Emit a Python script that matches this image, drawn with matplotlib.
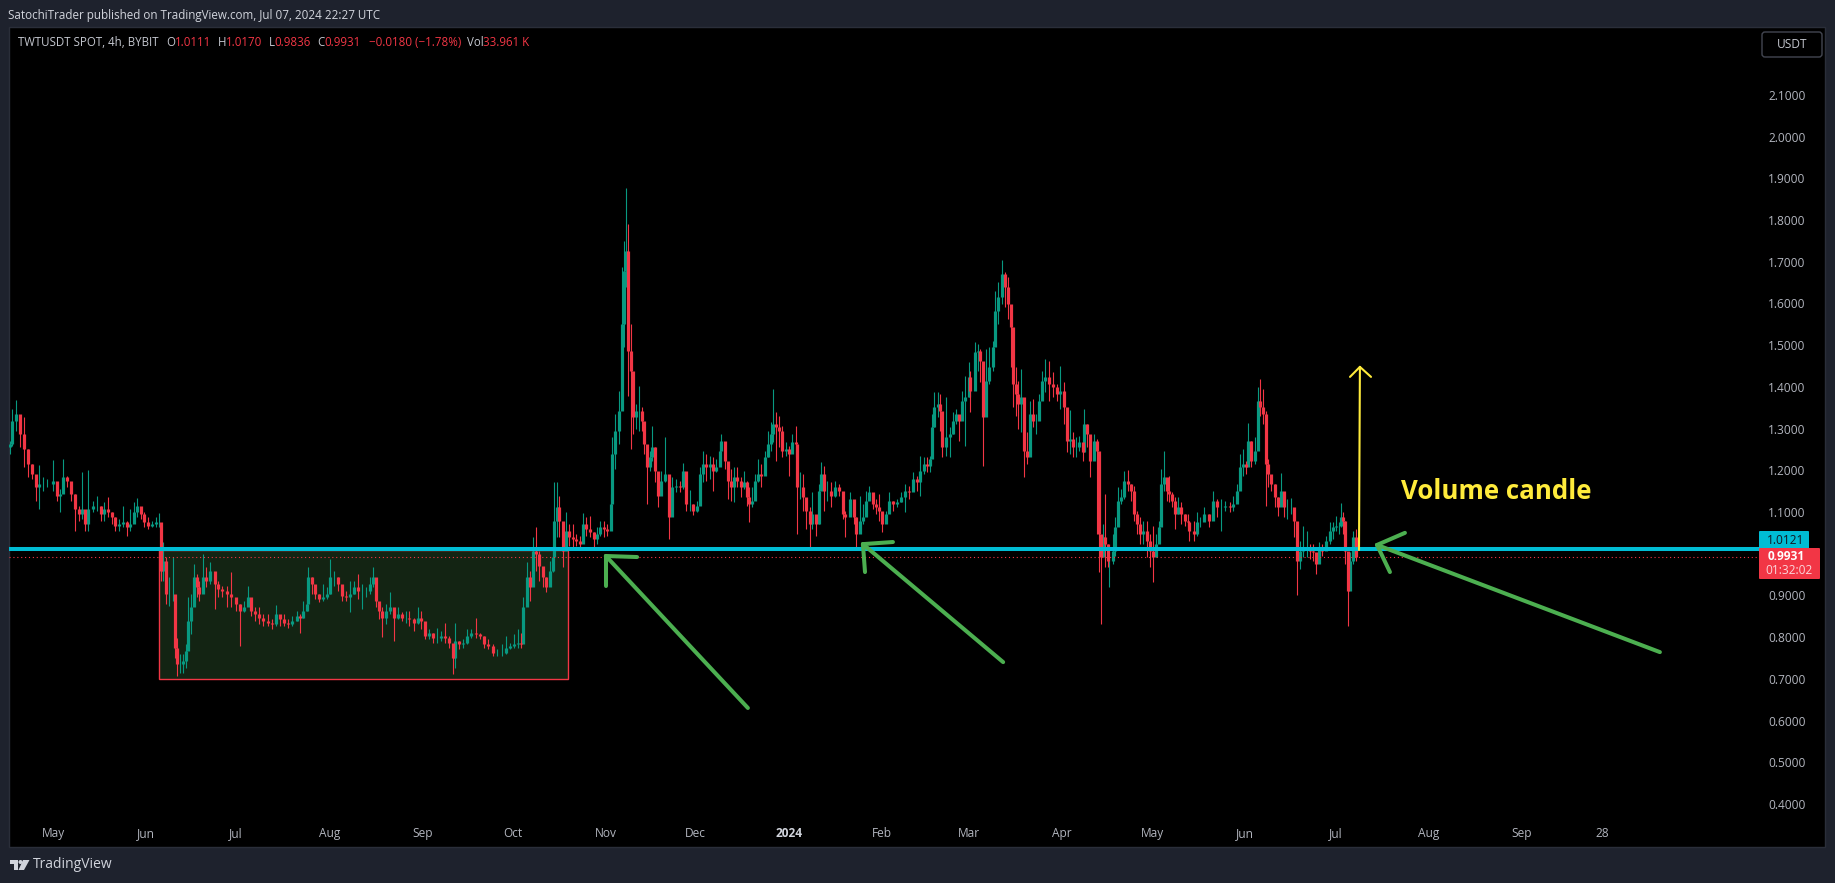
import matplotlib
matplotlib.use('Agg')
import matplotlib.pyplot as plt
import matplotlib.dates as mdates
import numpy as np
import datetime
from matplotlib.patches import Rectangle, FancyBboxPatch, Polygon, Circle

# -------------------------------------------------------------------------------------------------------------------- #
# DATA

# Candles. day = days after 2023-05-01
days = [-14.4, -13.7, -12.4, -11.1, -9.8, -8.4, -7.1, -5.8, -4.5, -3.2, -1.9, -0.1, 1.4, 2.4, 3.4, 4.7, 6.1, 7.4, 8.7,
        9.7, 10.7, 11.7, 13.3, 14.6, 15.9, 17.0, 18.2, 19.5, 20.8, 21.9, 23.2, 24.5, 25.8, 27.1, 28.1, 29.2, 30.4, 31.7,
        33.1, 34.4, 35.4, 35.8, 36.6, 37.7, 38.7, 39.8, 40.5, 41.2, 42.3, 43.2, 44.3, 45.1, 46.1, 46.9, 47.8, 48.6, 49.8,
        50.9, 52.2, 53.9, 55.1, 56.4, 58.1, 59.4, 61.0, 62.3, 63.6, 65.0, 66.0, 67.3, 68.7, 70.0, 71.6, 73.0, 74.2, 75.5,
        77.0, 78.3, 79.6, 81.2, 82.1, 83.4, 84.5, 85.0, 86.2, 87.4, 88.7, 90.0, 91.2, 92.4, 93.7, 95.0, 96.3, 97.7, 99.0,
        100.3, 101.6, 102.9, 104.2, 105.6, 106.6, 107.5, 108.6, 109.4, 110.8, 112.2, 113.5, 114.8, 116.1, 117.4, 118.7,
        120.1, 121.4, 122.7, 124.0, 125.3, 126.6, 128.0, 129.3, 130.6, 131.9, 133.2, 133.9, 135.2, 136.5, 137.8, 139.2,
        140.8, 142.1, 143.4, 144.7, 146.4, 147.7, 149.4, 150.8, 152.1, 153.4, 154.7, 156.0, 156.6, 157.9, 158.9, 159.9,
        160.9, 162.0, 163.2, 164.3, 165.5, 166.4, 166.8, 167.8, 168.6, 169.8, 170.8, 171.9, 173.0, 174.2, 175.4, 176.5,
        177.6, 178.7, 180.0, 181.1, 182.3, 183.5, 184.6, 185.7,
        186.2, 187.3, 188.4, 189.6, 190.3, 190.9, 191.4, 192.4, 193.2, 194.1, 195.1, 196.0, 196.8, 197.8, 198.8, 199.6,
        200.5, 201.4, 202.6, 203.8, 205.1, 206.2, 207.6, 208.7, 209.8, 210.9, 212.0, 213.2, 214.3, 215.3, 216.4, 217.6,
        218.7, 219.8, 220.9, 222.0, 222.6, 223.7, 224.8, 225.9, 226.8, 227.9, 229.0, 230.1, 231.2, 231.7, 232.7, 233.8,
        234.8, 235.9, 237.0, 238.1, 239.0, 239.8, 240.8, 241.8, 242.9, 244.0, 245.1, 246.2, 247.3, 247.8, 248.8, 249.8,
        250.9, 252.1, 252.9, 254.0, 255.1, 255.8, 256.8, 257.9, 259.2, 260.3, 261.8, 263.0, 263.8, 265.4, 266.6, 267.5,
        268.6, 269.7, 270.8, 271.8, 272.9, 274.1, 275.1, 276.0, 277.3, 278.5, 279.6, 280.9, 282.3, 283.8, 285.1, 286.4,
        287.6, 288.7, 289.9, 291.0, 292.0, 292.6, 293.4, 294.6, 295.3, 296.2, 297.4, 298.6, 299.7, 300.7, 301.8, 302.7,
        303.8, 304.9, 305.4, 307.0, 308.1, 308.8, 309.8, 310.7, 311.8, 312.9, 313.7, 314.8, 316.1, 317.0, 318.1, 319.0,
        319.7, 320.6, 321.4,
        322.3, 323.2, 324.3, 325.4, 326.5, 327.3, 328.2, 329.3, 330.4, 331.8, 333.1, 334.2, 335.4, 336.5, 337.6, 338.5,
        339.6, 340.7, 341.8, 342.9, 343.4, 344.3, 345.4, 346.6, 347.7, 348.2, 349.1, 349.8, 350.4, 351.2, 351.8, 352.9,
        353.8, 354.6, 355.7, 356.8, 357.9, 359.0, 359.9, 360.9, 362.0, 363.1, 364.2, 365.3, 366.4, 367.3, 368.3, 369.0,
        369.8, 370.9, 371.6, 372.7, 373.6, 374.6, 375.7, 376.8, 377.9, 378.4, 379.9, 381.0, 382.1, 383.4, 385.1, 386.2,
        387.7, 389.1, 390.3, 391.8, 393.1, 394.2, 395.3, 396.2, 397.3, 398.1, 399.0, 400.1, 401.2, 401.8, 402.9, 403.8,
        404.6, 405.7, 406.8, 407.9, 408.8, 409.9, 411.0, 412.1, 413.4, 414.1, 415.1, 416.4, 417.6, 418.7, 419.6, 420.5,
        421.6, 422.7, 424.0, 425.1, 426.2, 427.3, 428.1, 428.9, 429.7, 430.4, 431.2, 432.0, 433.0, 434.0]

highs = [1.271, 1.347, 1.369, 1.315, 1.327, 1.251, 1.215, 1.183, 1.213, 1.183, 1.179, 1.225, 1.159, 1.155, 1.227, 1.187,
         1.167, 1.143, 1.115, 1.195, 1.095, 1.201, 1.127, 1.139, 1.115, 1.123, 1.135, 1.099, 1.087, 1.083, 1.115, 1.079,
         1.107, 1.123, 1.133, 1.111, 1.099, 1.087, 1.079, 1.087, 1.097, 1.071, 1.027, 0.991, 0.943, 0.991, 0.855, 0.799,
         0.759, 0.759, 0.783, 0.895, 0.903, 0.975, 0.951, 0.935, 0.999, 0.967, 0.979, 0.943, 0.935, 0.923, 0.923, 0.955,
         0.891, 0.879, 0.887, 0.923, 0.871, 0.871, 0.871, 0.855, 0.855, 0.843, 0.878, 0.851, 0.855, 0.843, 0.851, 0.863,
         0.855, 0.887, 0.899, 0.967, 0.943, 0.923, 0.903, 0.927, 0.919, 0.987, 0.959, 0.943, 0.919, 0.911, 0.935, 0.935,
         0.951, 0.927, 0.919, 0.943, 0.967, 0.935, 0.883, 0.871, 0.879, 0.909, 0.863, 0.871, 0.859, 0.863, 0.863, 0.847,
         0.871, 0.863, 0.819, 0.819, 0.811, 0.823, 0.815, 0.833, 0.803, 0.783, 0.835, 0.791, 0.795, 0.819, 0.819, 0.846,
         0.811, 0.803, 0.795, 0.783, 0.771, 0.783, 0.803, 0.787, 0.807, 0.819, 0.811, 0.895, 0.979, 0.959, 1.039, 1.065,
         1.007, 0.967, 0.943, 0.983, 1.007, 1.171, 1.171, 1.139, 1.071, 1.099, 1.071, 1.071, 1.047, 1.043, 1.097, 1.087,
         1.091, 1.051, 1.063, 1.079, 1.079, 1.071, 1.143,
         1.279, 1.335, 1.391, 1.687, 1.751, 1.877, 1.791, 1.551, 1.383, 1.359, 1.403, 1.351, 1.307, 1.255, 1.247, 1.307,
         1.255, 1.175, 1.199, 1.280, 1.135, 1.183, 1.179, 1.175, 1.217, 1.159, 1.152, 1.119, 1.127, 1.207, 1.247, 1.239,
         1.235, 1.231, 1.227, 1.267, 1.287, 1.255, 1.211, 1.203, 1.207, 1.207, 1.183, 1.199, 1.175, 1.159, 1.159, 1.191,
         1.227, 1.215, 1.247, 1.295, 1.315, 1.395, 1.339, 1.331, 1.307, 1.267, 1.259, 1.287, 1.307, 1.247, 1.195, 1.191,
         1.119, 1.111, 1.147, 1.087, 1.167, 1.219, 1.211, 1.175, 1.171, 1.175, 1.167, 1.111, 1.103, 1.147, 1.103, 1.087,
         1.139, 1.119, 1.151, 1.163, 1.131, 1.131, 1.143, 1.087, 1.103, 1.147, 1.127, 1.131, 1.147, 1.167, 1.163, 1.195,
         1.187, 1.235, 1.231, 1.231, 1.235, 1.335, 1.387, 1.387, 1.383, 1.323, 1.375, 1.303, 1.339, 1.347, 1.331, 1.391,
         1.427, 1.459, 1.439, 1.507, 1.503, 1.491, 1.431, 1.491, 1.495, 1.511, 1.631, 1.651, 1.704, 1.675, 1.663, 1.591,
         1.487, 1.447, 1.415,
         1.443, 1.303, 1.291, 1.367, 1.371, 1.335, 1.383, 1.439, 1.467, 1.463, 1.435, 1.407, 1.451, 1.411, 1.287, 1.344,
         1.291, 1.279, 1.283, 1.263, 1.347, 1.311, 1.255, 1.287, 1.275, 1.135, 1.027, 1.071, 1.143, 1.023, 1.007, 1.047,
         1.087, 1.159, 1.155, 1.199, 1.201, 1.167, 1.163, 1.103, 1.087, 1.079, 1.079, 1.047, 1.067, 1.047, 1.079, 1.203,
         1.247, 1.167, 1.187, 1.147, 1.135, 1.135, 1.123, 1.095, 1.095, 1.079, 1.079, 1.099, 1.087, 1.111, 1.095, 1.151,
         1.131, 1.131, 1.127, 1.123, 1.139, 1.167, 1.239, 1.251, 1.223, 1.313, 1.271, 1.279, 1.399, 1.419, 1.395, 1.343,
         1.227, 1.187, 1.167, 1.135, 1.193, 1.131, 1.131, 1.133, 1.099, 1.027, 1.031, 1.067, 1.055, 1.023, 1.023, 0.999,
         1.027, 1.023, 1.043, 1.075, 1.075, 1.091, 1.075, 1.121, 1.099, 1.079, 0.975, 1.003, 1.055, 1.059]

lows = [1.239, 1.259, 1.295, 1.255, 1.207, 1.183, 1.179, 1.127, 1.107, 1.151, 1.159, 1.151, 1.127, 1.099, 1.151, 1.159,
        1.127, 1.055, 1.079, 1.083, 1.055, 1.055, 1.099, 1.103, 1.079, 1.079, 1.087, 1.071, 1.055, 1.055, 1.063, 1.043,
        1.055, 1.087, 1.087, 1.083, 1.063, 1.059, 1.063, 1.063, 1.063, 0.935, 0.935, 0.879, 0.875, 0.887, 0.751, 0.707,
        0.715, 0.715, 0.727, 0.799, 0.807, 0.895, 0.895, 0.887, 0.919, 0.919, 0.927, 0.867, 0.895, 0.895, 0.871, 0.871,
        0.863, 0.778, 0.859, 0.879, 0.851, 0.839, 0.831, 0.827, 0.827, 0.819, 0.827, 0.827, 0.827, 0.823, 0.827, 0.839,
        0.809, 0.847, 0.863, 0.887, 0.903, 0.891, 0.883, 0.887, 0.891, 0.903, 0.923, 0.911, 0.887, 0.887, 0.859, 0.903,
        0.891, 0.867, 0.895, 0.903, 0.919, 0.871, 0.843, 0.801, 0.831, 0.855, 0.791, 0.843, 0.839, 0.835, 0.827, 0.815,
        0.831, 0.819, 0.795, 0.795, 0.787, 0.787, 0.791, 0.787, 0.775, 0.711, 0.727, 0.771, 0.775, 0.783, 0.799, 0.799,
        0.795, 0.775, 0.771, 0.755, 0.755, 0.755, 0.759, 0.771, 0.775, 0.775, 0.775, 0.799, 0.887, 0.887, 0.935, 0.959,
        0.935, 0.919, 0.907, 0.927, 0.955, 1.023, 1.039, 1.039, 0.967, 1.031, 1.019, 1.015, 1.019, 1.011, 1.039, 1.043,
        1.039, 1.017, 1.023, 1.043, 1.039, 1.043, 1.063,
        1.191, 1.203, 1.263, 1.447, 1.495, 1.639, 1.379, 1.251, 1.287, 1.299, 1.295, 1.295, 1.239, 1.120, 1.199, 1.223,
        1.171, 1.111, 1.151, 1.171, 1.036, 1.119, 1.147, 1.147, 1.155, 1.103, 1.103, 1.093, 1.099, 1.119, 1.171, 1.175,
        1.179, 1.151, 1.195, 1.215, 1.247, 1.203, 1.131, 1.127, 1.123, 1.159, 1.135, 1.155, 1.115, 1.075, 1.111, 1.131,
        1.171, 1.159, 1.203, 1.231, 1.247, 1.267, 1.223, 1.255, 1.231, 1.235, 1.187, 1.247, 1.231, 1.047, 1.131, 1.103,
        1.059, 1.011, 1.059, 1.043, 1.071, 1.163, 1.103, 1.127, 1.111, 1.135, 1.139, 1.083, 1.039, 1.111, 1.071, 1.012,
        1.055, 1.071, 1.103, 1.131, 1.107, 1.095, 1.079, 1.051, 1.087, 1.115, 1.103, 1.111, 1.123, 1.099, 1.131, 1.151,
        1.151, 1.139, 1.191, 1.195, 1.195, 1.231, 1.303, 1.327, 1.295, 1.231, 1.235, 1.231, 1.287, 1.311, 1.271, 1.343,
        1.259, 1.375, 1.339, 1.423, 1.439, 1.411, 1.211, 1.387, 1.407, 1.439, 1.515, 1.551, 1.599, 1.591, 1.563, 1.447,
        1.351, 1.331, 1.299,
        1.291, 1.183, 1.215, 1.311, 1.303, 1.287, 1.355, 1.375, 1.387, 1.367, 1.375, 1.367, 1.347, 1.311, 1.243, 1.239,
        1.231, 1.231, 1.247, 1.223, 1.255, 1.255, 1.183, 1.239, 1.047, 0.955, 0.831, 1.007, 0.967, 0.967, 0.919, 0.975,
        0.995, 1.087, 1.119, 1.131, 1.151, 1.127, 1.079, 1.047, 1.023, 1.023, 0.991, 0.967, 0.931, 0.991, 1.031, 1.087,
        1.151, 1.127, 1.123, 1.111, 1.059, 1.095, 1.071, 1.067, 1.063, 1.031, 1.031, 1.043, 1.063, 1.079, 1.063, 1.103,
        1.087, 1.055, 1.103, 1.099, 1.103, 1.131, 1.167, 1.187, 1.191, 1.231, 1.207, 1.215, 1.303, 1.331, 1.311, 1.115,
        1.159, 1.151, 1.111, 1.091, 1.131, 1.087, 1.083, 1.095, 1.039, 0.900, 0.963, 0.991, 0.991, 0.987, 0.983, 0.951,
        0.991, 0.995, 1.011, 1.023, 1.035, 1.055, 1.047, 1.063, 1.047, 0.975, 0.827, 0.939, 0.975, 0.983]

closes = [1.263, 1.319, 1.335, 1.287, 1.251, 1.215, 1.191, 1.159, 1.167, 1.167, 1.167, 1.175, 1.139, 1.143, 1.183, 1.175,
          1.143, 1.107, 1.095, 1.107, 1.071, 1.107, 1.115, 1.115, 1.095, 1.107, 1.099, 1.087, 1.067, 1.071, 1.075, 1.063,
          1.071, 1.099, 1.115, 1.095, 1.075, 1.067, 1.071, 1.075, 1.075, 0.959, 0.983, 0.903, 0.903, 0.903, 0.775, 0.735,
          0.735, 0.743, 0.767, 0.839, 0.871, 0.943, 0.919, 0.903, 0.943, 0.935, 0.959, 0.927, 0.915, 0.911, 0.903, 0.895,
          0.879, 0.863, 0.871, 0.895, 0.863, 0.855, 0.847, 0.839, 0.835, 0.831, 0.855, 0.843, 0.835, 0.831, 0.839, 0.851,
          0.847, 0.863, 0.879, 0.943, 0.927, 0.903, 0.891, 0.895, 0.903, 0.943, 0.943, 0.927, 0.899, 0.895, 0.903, 0.919,
          0.911, 0.911, 0.911, 0.927, 0.943, 0.887, 0.863, 0.847, 0.863, 0.871, 0.847, 0.855, 0.847, 0.847, 0.843, 0.835,
          0.847, 0.839, 0.803, 0.811, 0.799, 0.799, 0.803, 0.799, 0.787, 0.751, 0.791, 0.783, 0.787, 0.803, 0.811, 0.807,
          0.803, 0.783, 0.779, 0.763, 0.763, 0.763, 0.775, 0.779, 0.783, 0.787, 0.783, 0.871, 0.943, 0.919, 1.007, 0.999,
          0.971, 0.943, 0.919, 0.959, 0.991, 1.079, 1.111, 1.079, 1.007, 1.055, 1.039, 1.035, 1.031, 1.023, 1.071, 1.059,
          1.051, 1.035, 1.047, 1.063, 1.059, 1.055, 1.119,
          1.239, 1.295, 1.343, 1.551, 1.679, 1.727, 1.487, 1.439, 1.327, 1.343, 1.343, 1.319, 1.263, 1.207, 1.231, 1.255,
          1.199, 1.139, 1.175, 1.191, 1.087, 1.159, 1.163, 1.159, 1.199, 1.119, 1.119, 1.103, 1.115, 1.191, 1.215, 1.207,
          1.215, 1.199, 1.207, 1.247, 1.271, 1.223, 1.175, 1.159, 1.183, 1.175, 1.159, 1.171, 1.135, 1.119, 1.127, 1.175,
          1.191, 1.187, 1.231, 1.263, 1.287, 1.311, 1.303, 1.295, 1.247, 1.251, 1.239, 1.267, 1.263, 1.159, 1.159, 1.135,
          1.103, 1.071, 1.095, 1.071, 1.151, 1.191, 1.151, 1.151, 1.139, 1.159, 1.151, 1.095, 1.087, 1.131, 1.087, 1.047,
          1.079, 1.087, 1.127, 1.147, 1.119, 1.111, 1.103, 1.071, 1.095, 1.127, 1.119, 1.123, 1.135, 1.151, 1.147, 1.179,
          1.171, 1.199, 1.215, 1.211, 1.227, 1.303, 1.351, 1.359, 1.343, 1.255, 1.279, 1.287, 1.319, 1.335, 1.319, 1.367,
          1.375, 1.423, 1.391, 1.483, 1.487, 1.463, 1.327, 1.415, 1.447, 1.495, 1.583, 1.615, 1.671, 1.639, 1.599, 1.543,
          1.407, 1.383, 1.359,
          1.375, 1.247, 1.231, 1.335, 1.319, 1.319, 1.367, 1.415, 1.423, 1.407, 1.399, 1.383, 1.391, 1.351, 1.271, 1.275,
          1.255, 1.255, 1.267, 1.243, 1.311, 1.287, 1.223, 1.271, 1.247, 1.047, 0.991, 1.039, 1.023, 0.983, 0.983, 1.007,
          1.063, 1.127, 1.135, 1.175, 1.167, 1.151, 1.095, 1.071, 1.047, 1.055, 1.031, 1.007, 0.991, 1.023, 1.063, 1.167,
          1.183, 1.151, 1.143, 1.127, 1.095, 1.111, 1.095, 1.079, 1.075, 1.055, 1.047, 1.075, 1.075, 1.095, 1.079, 1.127,
          1.111, 1.111, 1.115, 1.111, 1.119, 1.151, 1.207, 1.215, 1.207, 1.271, 1.223, 1.247, 1.367, 1.351, 1.335, 1.215,
          1.191, 1.167, 1.135, 1.111, 1.151, 1.111, 1.111, 1.111, 1.079, 0.983, 1.007, 1.015, 1.015, 1.007, 1.003, 0.975,
          1.015, 1.007, 1.031, 1.055, 1.063, 1.067, 1.067, 1.087, 1.079, 1.007, 0.911, 0.983, 1.039, 0.9931]

first_open = 1.255

# Axis ticks
price_ticks = [2.1, 2.0, 1.9, 1.8, 1.7, 1.6, 1.5, 1.4, 1.3, 1.2, 1.1, 1.0, 0.9, 0.8, 0.7, 0.6, 0.5, 0.4]
price_labels = ['2.1000', '2.0000', '1.9000', '1.8000', '1.7000', '1.6000', '1.5000', '1.4000', '1.3000', '1.2000',
                '1.1000', '', '0.9000', '0.8000', '0.7000', '0.6000', '0.5000', '0.4000']
date_ticks = ['2023-05-01', '2023-06-01', '2023-07-01', '2023-08-01', '2023-09-01', '2023-10-01', '2023-11-01',
              '2023-12-01', '2024-01-01', '2024-02-01', '2024-03-01', '2024-04-01', '2024-05-01', '2024-06-01',
              '2024-07-01', '2024-08-01', '2024-09-01', '2024-09-28']
date_labels = ['May', 'Jun', 'Jul', 'Aug', 'Sep', 'Oct', 'Nov', 'Dec', '2024', 'Feb', 'Mar', 'Apr', 'May', 'Jun', 'Jul',
               'Aug', 'Sep', '28']

# Levels and drawings (days, price)
support_level = 1.0121
last_close = 0.9931
box_days = [35.4, 171.5]
box_prices = [0.70, 1.009]
green_arrows = [
    {'tail': (231.4, 0.630), 'tip': (184.1, 0.9945), 'barbs': [(184.1, 0.9225), (194.5, 0.992)]},
    {'tail': (316.4, 0.740), 'tip': (269.7, 1.023), 'barbs': [(279.7, 1.028), (270.4, 0.956)]},
    {'tail': (535.1, 0.764), 'tip': (440.9, 1.021), 'barbs': [(450.2, 1.050), (445.2, 0.956)]},
]
yellow_arrow = {'tail': (434.9, 1.009), 'tip': (435.2, 1.448), 'barbs': [(431.9, 1.424), (438.9, 1.424)]}

# -------------------------------------------------------------------------------------------------------------------- #
# STYLE

plt.rcParams['font.family'] = ['Open Sans', 'DejaVu Sans']

colors = {'frame': '#1E222D', 'border': '#2A2E39', 'text': '#B2B5BE', 'light': '#C4C7CF', 'up': '#089981',
          'down': '#F23645', 'level': '#00BCD4', 'box': '#132413', 'arrow': '#4CAF50', 'yellow': '#FFEB3B'}
W, H = 1835, 883
left, right, top, bottom = 9, 1759, 27, 823
px_per_day = 3.003
price_per_px = 1 / 417


def fx(x):
    return x / W


def fy(y):
    return 1 - y / H


fig = plt.figure(figsize=(W / 100, H / 100), dpi=100, facecolor=colors['frame'])

# Black chart panel behind the axes
fig.patches.append(Rectangle((fx(9), fy(847)), fx(1825 - 9), 820 / H, transform=fig.transFigure, facecolor='black',
                             edgecolor=colors['border'], linewidth=1, zorder=-1))

ax = fig.add_axes([fx(left), fy(bottom), fx(right - left), (bottom - top) / H], facecolor='none')

# -------------------------------------------------------------------------------------------------------------------- #
# CANDLES

start = mdates.date2num(datetime.date(2023, 5, 1))
t = start + np.array(days)
highs = np.array(highs)
lows = np.array(lows)
closes = np.array(closes)
opens = np.concatenate([[first_open], closes[:-1]])
up = closes >= opens

ax.add_patch(Rectangle((start + box_days[0], box_prices[0]), box_days[1] - box_days[0], box_prices[1] - box_prices[0],
                       facecolor=colors['box'], edgecolor=colors['down'], linewidth=1, zorder=1))

for mask, color in [(up, colors['up']), (~up, colors['down'])]:
    ax.vlines(t[mask], lows[mask], highs[mask], color=color, linewidth=0.8, capstyle='butt', zorder=2)
    ax.vlines(t[mask], np.minimum(opens, closes)[mask], np.maximum(opens, closes)[mask], color=color, linewidth=2.3,
              capstyle='butt', zorder=2)

ax.axhline(last_close, color=colors['down'], linewidth=0.8, linestyle=(0, (1, 2.5)), zorder=3)
ax.axhline(support_level, color=colors['level'], linewidth=2.9, zorder=4)


# Hand drawn arrows
def draw_arrow(arrow, color, width):
    for end in [arrow['tail']] + arrow['barbs']:
        ax.plot([start + arrow['tip'][0], start + end[0]], [arrow['tip'][1], end[1]], color=color, linewidth=width,
                solid_capstyle='round', zorder=5)


for arrow in green_arrows:
    draw_arrow(arrow, colors['arrow'], 2.9)
draw_arrow(yellow_arrow, colors['yellow'], 1.5)

ax.text(start + 448.9, 1.150, 'Volume candle', color=colors['yellow'], fontsize=18.6, fontweight='bold', va='center',
        ha='left', zorder=6)

# -------------------------------------------------------------------------------------------------------------------- #
# AXES

ax.set_xlim(start + (left - 53) / px_per_day, start + (right - 53) / px_per_day)
ax.set_ylim(1.1 - (bottom - 512) * price_per_px, 1.1 + (512 - top) * price_per_px)
for spine in ax.spines.values():
    spine.set_visible(False)
ax.yaxis.tick_right()
ax.set_yticks(price_ticks)
ax.set_yticklabels(price_labels)
ax.set_xticks([mdates.date2num(datetime.date.fromisoformat(d)) for d in date_ticks])
ax.set_xticklabels(date_labels)
ax.tick_params(axis='y', length=0, pad=6.5, labelsize=8.6, labelcolor=colors['text'])
ax.tick_params(axis='x', length=0, pad=3, labelsize=8.6, labelcolor=colors['text'])
ax.get_xticklabels()[8].set_color('#D1D4DC')
ax.get_xticklabels()[8].set_fontweight('bold')


# -------------------------------------------------------------------------------------------------------------------- #
# HEADER, LEGEND, TAGS, FOOTER

def label(x, y, text, color=colors['text'], size=8.3, weight='normal', ha='left'):
    fig.text(fx(x), fy(y), text, color=color, fontsize=size, fontweight=weight, ha=ha, va='center')


def tag(x0, y0, x1, y1, face, edge='none', pad=1.5):
    fig.patches.append(FancyBboxPatch((x0 + pad, H - y1 + pad), x1 - x0 - 2 * pad, y1 - y0 - 2 * pad,
                                      boxstyle=f'round,pad={pad}', transform=None, facecolor=face, edgecolor=edge,
                                      linewidth=1, zorder=10))


label(8, 15, 'SatochiTrader published on TradingView.com, Jul 07, 2024 22:27 UTC', color='#D1D4DC', size=8.4)

red = colors['down']
legend_y = 42.5
label(18, legend_y, 'TWTUSDT SPOT, 4h, BYBIT', colors['light'])
label(166, legend_y, 'O', colors['light'])
label(175, legend_y, '1.0111', red)
label(217.5, legend_y, 'H', colors['light'])
label(226, legend_y, '1.0170', red)
label(269, legend_y, 'L', colors['light'])
label(274, legend_y, '0.9836', red)
label(317.5, legend_y, 'C', colors['light'])
label(324, legend_y, '0.9931', red)
label(368.5, legend_y, '\u22120.0180 (\u22121.78%)', red)
label(466.6, legend_y, 'Vol', colors['light'])
label(483, legend_y, '33.961 K', red)

tag(1762, 32, 1822, 57, 'none', edge='#434651', pad=3)
label(1792, 45, 'USDT', colors['light'], size=8.6, ha='center')

tag(1759, 531, 1809, 550, colors['level'], pad=1)
fig.text(fx(1786), fy(541), '1.0121', color='#131722', fontsize=8.6, ha='center', va='center', zorder=11)
tag(1759, 548, 1820, 579, colors['down'], pad=1)
fig.text(fx(1786), fy(557), f'{last_close:.4f}', color='white', fontsize=8.6, fontweight='bold', ha='center',
         va='center', zorder=11)
fig.text(fx(1789), fy(571), '01:32:02', color='#FBD5DA', fontsize=8.6, ha='center', va='center', zorder=11)

# TradingView logo and name
logo = '#D1D4DC'
fig.patches.append(Polygon([(10, H - 860), (18, H - 860), (18, H - 870), (14, H - 870), (14, H - 864), (10, H - 864)],
                           transform=None, facecolor=logo))
fig.patches.append(Circle((20.5, H - 862), 2, transform=None, facecolor=logo))
fig.patches.append(Polygon([(23, H - 860), (29.5, H - 860), (24, H - 870), (18.5, H - 870)], transform=None,
                           facecolor=logo))
label(33, 865, 'TradingView', '#D1D4DC', size=10)

fig.savefig('out.png', dpi=100, facecolor=fig.get_facecolor())
